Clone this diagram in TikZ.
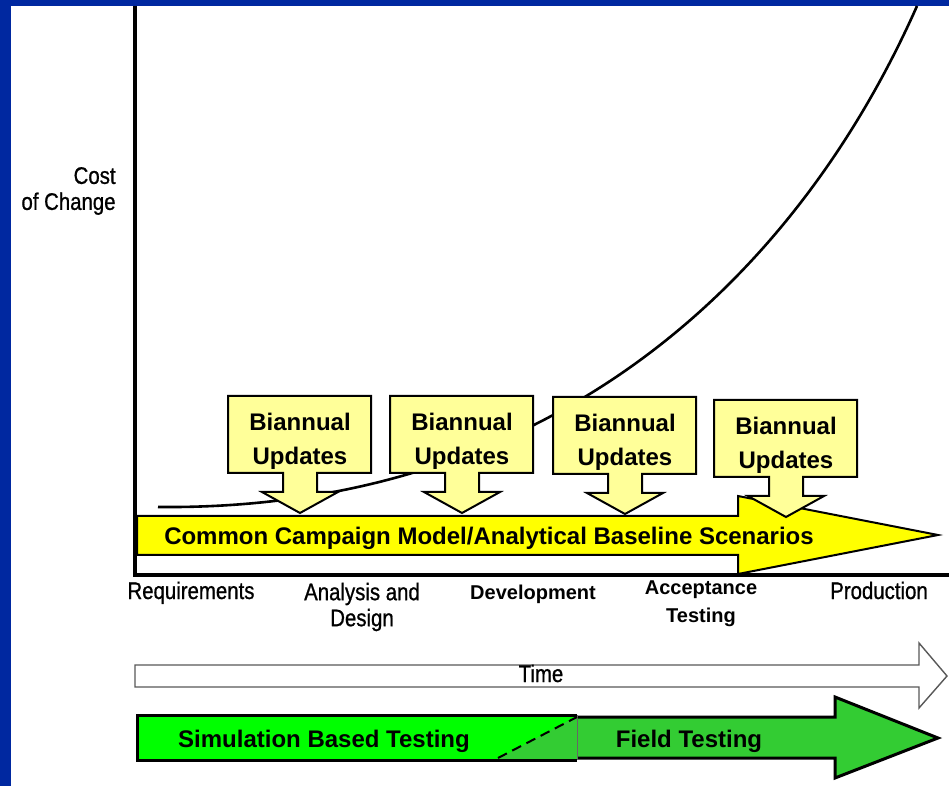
\documentclass[tikz,border=0pt]{standalone}
\usepackage{fontspec}
\setmainfont{Liberation Sans}
\newfontfamily\narrowfont[FakeStretch=0.85, FakeBold=0.8]{Liberation Sans}
\definecolor{slideblue}{RGB}{0,40,160}
\definecolor{baseyellow}{RGB}{255,255,0}
\definecolor{paleyellow}{RGB}{255,255,153}
\definecolor{simgreen}{RGB}{0,255,0}
\definecolor{fieldgreen}{RGB}{51,204,51}

\begin{document}
\begin{tikzpicture}[x=0.5pt, y=-0.5pt,
    axis/.style={line width=2pt},
    costcurve/.style={line width=1.3pt},
    update/.style={draw=black, fill=paleyellow, line width=1pt},
    updatetext/.style={font=\bfseries\fontsize{12}{17}\selectfont, align=center, inner sep=0pt},
    phase/.style={font=\narrowfont\fontsize{12}{13}\selectfont, align=center, inner sep=0pt},
    phasebold/.style={font=\bfseries\fontsize{10}{14}\selectfont, align=center, inner sep=0pt},
    bartext/.style={font=\bfseries\fontsize{12}{14}\selectfont, inner sep=0pt}]

    % slide frame
    \fill[slideblue] (0,0) rectangle (949,786);
    \fill[white] (11,6) rectangle (949,786);
    \useasboundingbox (0,0) rectangle (949,786);

    % axes
    \coordinate (ytop) at (135,6);
    \coordinate (origin) at (135,575);
    \coordinate (xend) at (949,575);
    \draw[axis] (ytop) -- (origin) -- (xend);
    \node[phase, anchor=east, align=right] (cost) at (116,191) {Cost\\of Change};

    % cost of change curve
    \coordinate (cstart) at (158,507);
    \coordinate (cend) at (917,6);
    \draw[costcurve] (cstart) .. controls (560,511) and (800,270) .. (cend);

    % baseline scenarios arrow
    \draw[fill=baseyellow, line width=1pt] (137,516) -- (738,516) -- (738,496) -- (938,535)
        -- (738,574) -- (738,555) -- (137,555) -- cycle;
    \node[bartext, anchor=base] (baseline) at (489,545)
        {Common Campaign Model/Analytical Baseline Scenarios};

    % biannual updates
    \foreach \l/\t [count=\i] in {228/396, 390/396, 553/397, 714/400} {
        \draw[update] (\l,\t) -- (\l+143,\t) -- (\l+143,\t+77) -- (\l+89,\t+77) -- (\l+89,\t+96)
            -- (\l+110,\t+96) -- (\l+72,\t+117) -- (\l+34,\t+96) -- (\l+55,\t+96) -- (\l+55,\t+77)
            -- (\l,\t+77) -- cycle;
        \node[updatetext] (update\i) at (\l+72,\t+45) {Biannual\\Updates};
    }

    % phases
    \node[phase, anchor=base] (req) at (191,599) {Requirements};
    \node[phase] (design) at (362,607) {Analysis and\\Design};
    \node[phasebold, anchor=base] (dev) at (533,599) {Development};
    \node[phasebold] (accept) at (701,604) {Acceptance\\Testing};
    \node[phase, anchor=base] (prod) at (879,599) {Production};

    % time arrow
    \draw[draw=black!65, line width=0.7pt, fill=white] (135,665) -- (919,665) -- (919,643)
        -- (947,676) -- (919,708) -- (919,687) -- (135,687) -- cycle;
    \node[phase, anchor=base] (time) at (541,682) {Time};

    % testing arrows
    \fill[fieldgreen] (577,717) -- (835,717) -- (835,697) -- (938,738) -- (835,778) -- (835,758)
        -- (577,758) -- cycle;
    \draw[line width=1.5pt] (577,717) -- (835,717) -- (835,697) -- (938,738) -- (835,778)
        -- (835,758) -- (577,758);
    \fill[simgreen] (137,715) rectangle (577,760);
    \fill[fieldgreen] (498,759) -- (577,716) -- (577,759) -- cycle;
    \draw[line width=1.5pt] (577,715) -- (137,715) -- (137,760) -- (577,760);
    \draw[black!60, line width=0.5pt] (577,715) -- (577,760);
    \draw[dashed, line width=1pt, dash pattern=on 5pt off 3pt] (498,758) -- (577,717);
    \node[bartext, anchor=base] (sim) at (324,747) {Simulation Based Testing};
    \node[bartext, anchor=base] (field) at (689,747) {Field Testing};

\end{tikzpicture}
\end{document}
